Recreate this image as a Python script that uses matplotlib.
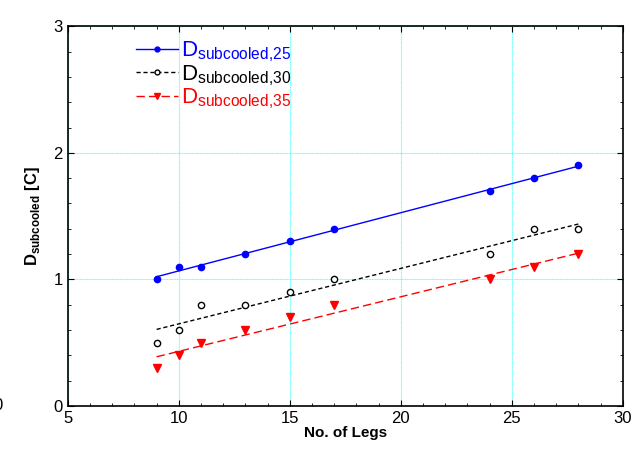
import numpy as np
import matplotlib.pyplot as plt

plt.rcParams['font.family'] = ['Liberation Sans', 'DejaVu Sans']
plt.rcParams['mathtext.fontset'] = 'custom'
plt.rcParams['mathtext.rm'] = 'Liberation Sans'

legs = [9, 10, 11, 13, 15, 17, 24, 26, 28]
d_sub_25 = [1.0, 1.1, 1.1, 1.2, 1.3, 1.4, 1.7, 1.8, 1.9]
d_sub_30 = [0.5, 0.6, 0.8, 0.8, 0.9, 1.0, 1.2, 1.4, 1.4]
d_sub_35 = [0.3, 0.4, 0.5, 0.6, 0.7, 0.8, 1.0, 1.1, 1.2]

fig = plt.figure(figsize=(6.4, 4.51), dpi=100)
ax = fig.add_axes([0.106, 0.0998, 0.867, 0.842])

x = np.array(legs, dtype=float)
xf = np.array([x.min(), x.max()])

series = [
    (d_sub_25, 'blue', '-', 'o', 'blue', r'D$_{\mathregular{subcooled{,}25}}$'),
    (d_sub_30, 'black', (0, (3, 2)), 'o', 'white', r'D$_{\mathregular{subcooled{,}30}}$'),
    (d_sub_35, 'red', (0, (6, 3)), 'v', 'red', r'D$_{\mathregular{subcooled{,}35}}$'),
]
handles = []
for y, c, ls, m, fc, lab in series:
    p = np.polyfit(x, y, 1)
    ax.plot(xf, np.polyval(p, xf), color=c, ls=ls, lw=1)
    ms = 6 if m == 'v' else 4.5
    ax.plot(x, y, ls='none', marker=m, color=c, mfc=fc, mec=c, ms=ms, mew=1)
    h, = ax.plot([], [], color=c, ls=ls, lw=1, marker=m, mfc=fc, mec=c, ms=ms - 1)
    handles.append(h)

leg = ax.legend(handles, [s[5] for s in series], loc='upper left', frameon=False,
                handlelength=1.9, fontsize=16, bbox_to_anchor=(0.095, 1.005),
                labelspacing=-0.05, handletextpad=0.1, borderaxespad=0.3)
for t, s in zip(leg.get_texts(), series):
    t.set_color(s[1])

ax.set_xlim(5, 30)
ax.set_ylim(0, 3)
ax.set_xticks([5, 10, 15, 20, 25, 30])
ax.set_yticks([0, 1, 2, 3])
ax.set_xticks(np.arange(5, 31, 1), minor=True)
ax.set_yticks(np.arange(0, 3.01, 0.2), minor=True)
ax.tick_params(which='both', direction='in', top=True, right=True, labelsize=12)
ax.tick_params(which='major', length=4)
ax.tick_params(which='minor', length=2)
ax.grid(True, which='major', color='#66ffff', lw=0.8, ls=(0, (1, 0.5)))
for s in ax.spines.values():
    s.set_linewidth(1.2)

ax.set_xlabel('No. of Legs', fontweight='bold', fontsize=11, labelpad=0)
ax.set_ylabel(r'D$_{\mathregular{subcooled}}$ [C]', fontweight='bold', fontsize=12, labelpad=8)
fig.text(-0.003, 0.1, '0', ha='center', va='center', fontsize=12)

fig.savefig('out.png', dpi=100)
